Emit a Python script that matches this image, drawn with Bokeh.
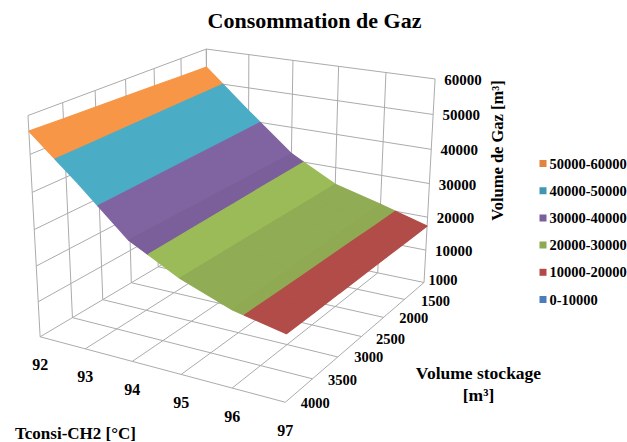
import numpy as np
from bokeh.plotting import figure
from bokeh.models import Range1d
from bokeh.embed import file_html
from bokeh.resources import INLINE
from bokeh.core.properties import value

# ---------- data ----------
temperatures = [92, 93, 94, 95, 96, 97]
volumes = [1000, 1500, 2000, 2500, 3000, 3500, 4000]
z_ticks = [10000, 20000, 30000, 40000, 50000, 60000]
gaz_v1000 = [54500, 43000, 32000, 24900, 21300, 17300]
gaz_v1500 = [54750, 43300, 32100, 25000, 21200, 17400]
gaz_v2000 = [55000, 43600, 32200, 25150, 21050, 17500]
gaz_v2500 = [55250, 43900, 32300, 25300, 20950, 17550]
gaz_v3000 = [55500, 44200, 32400, 25400, 20850, 17650]
gaz_v3500 = [55750, 44450, 32550, 25550, 20750, 17700]
gaz_v4000 = [56000, 44700, 32650, 25700, 20650, 17800]
gaz = [gaz_v1000, gaz_v1500, gaz_v2000, gaz_v2500, gaz_v3000, gaz_v3500, gaz_v4000]
band_labels = ["50000-60000", "40000-50000", "30000-40000", "20000-30000", "10000-20000", "0-10000"]
band_lows = [50000, 40000, 30000, 20000, 10000, 0]
surface_colors = ["#F79646", "#4BACC6", "#8064A2", "#9BBB59", "#B24C48", "#4F81BD"]
legend_colors = ["#E0843F", "#4197AF", "#7A5F9A", "#8CAA50", "#B44A47", "#4A7EBB"]

# colour of the facets per temperature interval, when it differs from the band's one
facet_colors = {(2, 2): "#7B5F9A", (3, 3): "#90AC54", (3, 4): "#8FAA52", (2, 3): "#9BBB59"}

# ---------- 3-D camera: fitted on the corners of the box ----------
def unit(t, v, z):
    return ((t - 92) / 5.0, (v - 1000) / 3000.0, z / 60000.0)

anchors = [
    (unit(92, 4000, 0), (39, 337)), (unit(97, 4000, 0), (285, 401)),
    (unit(97, 1000, 0), (423, 283)), (unit(92, 1000, 0), (208, 236)),
    (unit(92, 4000, 60000), (28, 115)), (unit(92, 1000, 60000), (205, 49)),
    (unit(97, 1000, 60000), (435, 78)),
]
A, b = [], []
for (u, v, w), (px, py) in anchors:
    A.append([u, v, w, 1, 0, 0, 0, 0, -px * u, -px * v, -px * w]); b.append(px)
    A.append([0, 0, 0, 0, u, v, w, 1, -py * u, -py * v, -py * w]); b.append(py)
sol = np.linalg.lstsq(np.array(A, float), np.array(b, float), rcond=None)[0]
P = np.append(sol, 1.0).reshape(3, 4)

def proj(t, v, z):
    q = P @ np.array([*unit(t, v, z), 1.0])
    return q[0] / q[2], q[1] / q[2]

# ---------- figure in page pixels ----------
p = figure(width=627, height=442, output_backend="svg", toolbar_location=None,
           x_range=Range1d(0, 627), y_range=Range1d(442, 0), min_border=0,
           border_fill_color="white", background_fill_color="white", outline_line_color=None)
p.xaxis.visible = False
p.yaxis.visible = False
p.grid.visible = False

# ---------- box grid ----------
gx, gy = [], []
def seg(a, b):
    x0, y0 = proj(*a); x1, y1 = proj(*b)
    gx.append([x0, x1]); gy.append([y0, y1])

for t in temperatures:
    seg((t, 1000, 0), (t, 4000, 0))
    seg((t, 1000, 0), (t, 1000, 60000))
for v in volumes:
    seg((92, v, 0), (97, v, 0))
    seg((92, v, 0), (92, v, 60000))
for z in z_ticks:
    seg((92, 1000, z), (97, 1000, z))
    seg((92, 1000, z), (92, 4000, z))
p.multi_line(gx, gy, line_color="#ABABAB", line_width=1)

# ---------- surface split in bands ----------
def clip(poly, lo, hi):
    def cut(points, keep, level):
        out = []
        for i, a in enumerate(points):
            c = points[(i + 1) % len(points)]
            ka, kc = keep(a[2]), keep(c[2])
            if ka:
                out.append(a)
            if ka != kc:
                f = (level - a[2]) / (c[2] - a[2])
                out.append((a[0] + f * (c[0] - a[0]), a[1] + f * (c[1] - a[1]), level))
        return out
    res = cut(poly, lambda z: z >= lo, lo)
    if res:
        res = cut(res, lambda z: z <= hi, hi)
    return res

xs, ys, colors = [], [], []
for j in range(len(volumes) - 1):
    for i in range(len(temperatures) - 1):
        quad = [(temperatures[i], volumes[j], gaz[j][i]),
                (temperatures[i + 1], volumes[j], gaz[j][i + 1]),
                (temperatures[i + 1], volumes[j + 1], gaz[j + 1][i + 1]),
                (temperatures[i], volumes[j + 1], gaz[j + 1][i])]
        for b_i, lo in enumerate(band_lows):
            part = clip(quad, lo, lo + 10000)
            if len(part) >= 3:
                pts = [proj(*q) for q in part]
                xs.append([q[0] for q in pts])
                ys.append([q[1] for q in pts])
                colors.append(facet_colors.get((b_i, i), surface_colors[b_i]))
p.patches(xs, ys, fill_color=colors, line_color=colors, line_width=1.2)

# ---------- tick labels ----------
SERIF = value("Liberation Serif")
def labels(x, y, txt, size, align="center", angle=0.0, color="#000000"):
    p.text(x, y, text=txt, text_font=SERIF, text_font_size=size, text_font_style="bold",
           text_align=align, text_baseline="middle", angle=angle, text_color=color)

tp = [proj(t, 4000, 0) for t in temperatures]
labels([q[0] for q in tp], [q[1] + 28 for q in tp], [str(t) for t in temperatures], "16px")

vp = [proj(97, v, 0) for v in volumes]
v_dx = [19, 31, 30, 29, 31, 30, 30]
v_dy = [-2, 2, 1, 2, 0, 1, 1]
labels([q[0] + d for q, d in zip(vp, v_dx)], [q[1] + d for q, d in zip(vp, v_dy)],
       [str(v) for v in volumes], "14.5px")

zp = [proj(97, 1000, z) for z in z_ticks]
labels([q[0] + 28 for q in zp], [q[1] + 1 for q in zp], [str(z) for z in z_ticks], "15px")

# ---------- titles ----------
labels([314], [20], ["Consommation de Gaz"], "22px")
labels([497], [150], ["Volume de Gaz [m³]"], "16.5px", angle=np.pi / 2)
labels([478], [372], ["Volume stockage"], "17.5px")
labels([478], [394], ["[m³]"], "17.5px")
labels([75], [433], ["Tconsi-CH2 [°C]"], "17px")

# ---------- legend ----------
leg_y = [163.0 + 27.2 * k for k in range(len(band_labels))]
p.scatter([542.5] * 6, leg_y, marker="square", size=7, fill_color=legend_colors, line_color=None)
labels([549] * 6, leg_y, band_labels, "14.5px", align="left")

open("out.html", "w").write(file_html(p, INLINE))
